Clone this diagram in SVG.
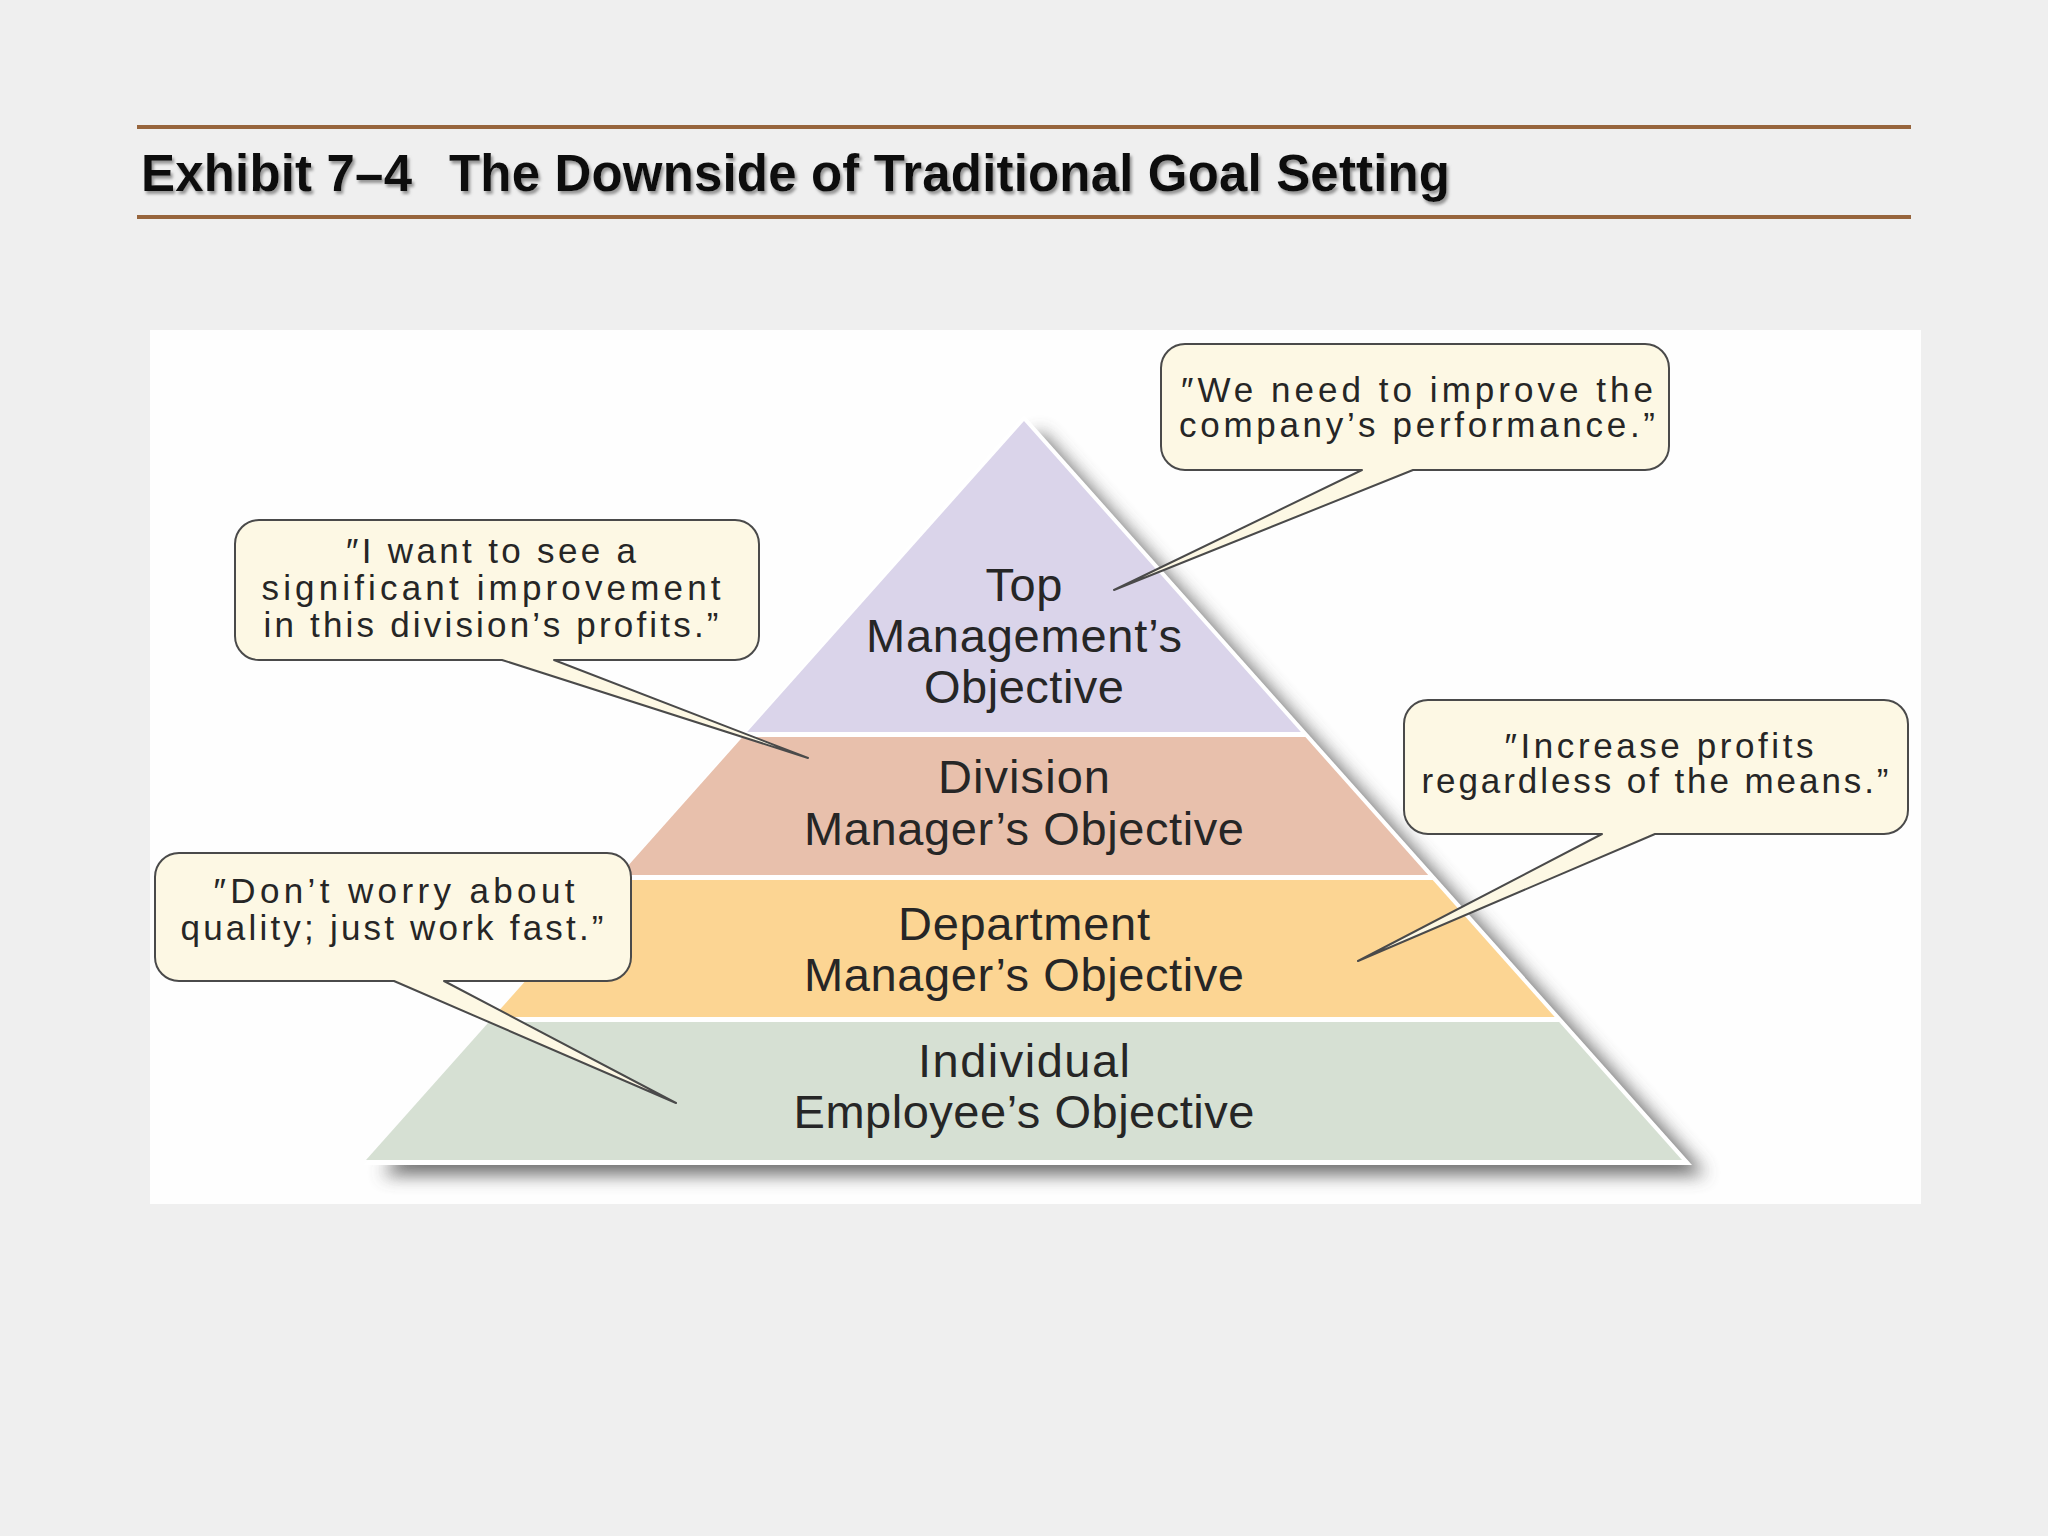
<svg xmlns="http://www.w3.org/2000/svg" width="2048" height="1536" viewBox="0 0 2048 1536">
<defs>
<filter id="pshadow" x="-10%" y="-10%" width="130%" height="130%">
<feGaussianBlur stdDeviation="9"/>
</filter>
<filter id="tshadow" x="-5%" y="-30%" width="110%" height="160%">
<feDropShadow dx="2" dy="3" stdDeviation="1.5" flood-color="#8a8a8a" flood-opacity="0.9"/>
</filter>
<style>
.title{font-family:"Liberation Sans",Arial,sans-serif;font-weight:bold;font-size:51px;fill:#111;}
.rule{stroke:#97653d;stroke-width:4;}
.band-label{font-family:"Liberation Sans",Arial,sans-serif;font-size:47px;fill:#262626;text-anchor:middle;}
.bubble{fill:#fdf8e4;stroke:#4a4a4a;stroke-width:2;stroke-linejoin:round;}
.quote{font-family:"Liberation Sans",Arial,sans-serif;font-size:35px;fill:#262626;text-anchor:middle;}
</style>
</defs>
<rect x="0" y="0" width="2048" height="1536" fill="#efefef"/>
<g id="title">
<line class="rule" x1="137" y1="127" x2="1911" y2="127"/>
<line class="rule" x1="137" y1="217" x2="1911" y2="217"/>
<g filter="url(#tshadow)">
<text class="title" x="141" y="191" textLength="271">Exhibit 7–4</text>
<text class="title" x="449" y="191" textLength="1001">The Downside of Traditional Goal Setting</text>
</g>
</g>
<rect id="panel" x="150" y="330" width="1771" height="874" fill="#fefefe"/>
<g id="pyramid">
<polygon points="1040,431 382,1175 1706,1175" fill="#555555" opacity="0.85" filter="url(#pshadow)"/>
<polygon points="1024,415 364,1165 1692,1165" fill="#ffffff"/>
<g id="band-top">
<polygon points="1024,421 747.1,732 1300.9,732" fill="#dad4ea"/>
<text class="band-label" x="1024" y="601" textLength="77">Top</text>
<text class="band-label" x="1024" y="652" textLength="316">Management’s</text>
<text class="band-label" x="1024" y="703" textLength="200">Objective</text>
</g>
<g id="band-division">
<polygon points="742.6,737 1305.4,737 1428.2,875 619.8,875" fill="#e8c0ac"/>
<text class="band-label" x="1024" y="793" textLength="172">Division</text>
<text class="band-label" x="1024" y="845" textLength="440">Manager’s Objective</text>
</g>
<g id="band-department">
<polygon points="615.3,880 1432.7,880 1554.7,1017 493.3,1017" fill="#fcd593"/>
<text class="band-label" x="1024" y="940" textLength="252">Department</text>
<text class="band-label" x="1024" y="991" textLength="440">Manager’s Objective</text>
</g>
<g id="band-individual">
<polygon points="488.9,1022 1559.1,1022 1682,1160 366,1160" fill="#d6e0d3"/>
<text class="band-label" x="1024" y="1077" textLength="212">Individual</text>
<text class="band-label" x="1024" y="1128" textLength="461">Employee’s Objective</text>
</g>
</g>
<g id="callout-top">
<path class="bubble" d="M1185,344 H1645 A24,24 0 0 1 1669,368 V446 A24,24 0 0 1 1645,470 H1413 L1114,590 L1362,470 H1185 A24,24 0 0 1 1161,446 V368 A24,24 0 0 1 1185,344 Z"/>
<text class="quote" x="1417" y="402" textLength="472">″We need to improve the</text>
<text class="quote" x="1417" y="437" textLength="476">company’s performance.”</text>
</g>
<g id="callout-division">
<path class="bubble" d="M259,520 H735 A24,24 0 0 1 759,544 V636 A24,24 0 0 1 735,660 H554 L808,758 L502,660 H259 A24,24 0 0 1 235,636 V544 A24,24 0 0 1 259,520 Z"/>
<text class="quote" x="491" y="563" textLength="290">″I want to see a</text>
<text class="quote" x="491" y="600" textLength="459">significant improvement</text>
<text class="quote" x="491" y="637" textLength="455">in this division’s profits.”</text>
</g>
<g id="callout-department">
<path class="bubble" d="M1428,700 H1884 A24,24 0 0 1 1908,724 V810 A24,24 0 0 1 1884,834 H1655 L1358,961 L1602,834 H1428 A24,24 0 0 1 1404,810 V724 A24,24 0 0 1 1428,700 Z"/>
<text class="quote" x="1659" y="758" textLength="309">″Increase profits</text>
<text class="quote" x="1655" y="793" textLength="467">regardless of the means.”</text>
</g>
<g id="callout-individual">
<path class="bubble" d="M179,853 H607 A24,24 0 0 1 631,877 V957 A24,24 0 0 1 607,981 H444 L676,1103 L394,981 H179 A24,24 0 0 1 155,957 V877 A24,24 0 0 1 179,853 Z"/>
<text class="quote" x="394" y="903" textLength="361">″Don’t worry about</text>
<text class="quote" x="392" y="940" textLength="423">quality; just work fast.”</text>
</g>
</svg>
